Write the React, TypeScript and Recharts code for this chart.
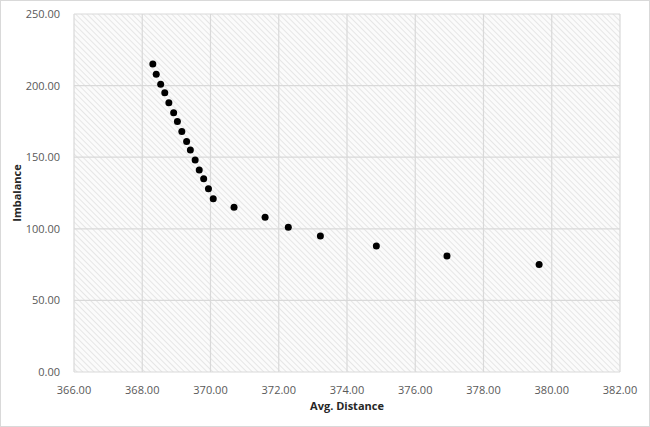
import React from "react";
import { ScatterChart, Scatter, XAxis, YAxis, CartesianGrid, Label } from "recharts";

const avgDistance = [
  368.31, 368.41, 368.54, 368.66, 368.78, 368.92, 369.03, 369.16, 369.3, 369.41, 369.55,
  369.67, 369.8, 369.94, 370.08, 370.69, 371.6, 372.28, 373.22, 374.86, 376.93, 379.63,
];
const imbalance = [
  215, 208, 201, 195, 188, 181, 175, 168, 161, 155, 148, 141, 135, 128, 121, 115, 108, 101, 95, 88, 81, 75,
];
const xTicks = [366, 368, 370, 372, 374, 376, 378, 380, 382];
const yTicks = [0, 50, 100, 150, 200, 250];

const data = avgDistance.map((x, i) => ({ x, y: imbalance[i] }));

const font = "'Open Sans', 'Noto Sans', sans-serif";

const Dot = (props: any) => <circle cx={props.cx} cy={props.cy} r={3.5} fill="#000" />;

export default function App() {
  return (
    <div style={{ position: "absolute", left: 0, top: 0, width: 650, height: 427, background: "#fff", boxSizing: "border-box", border: "1px solid #d9d9d9", fontFamily: font }}>
      <svg width={0} height={0} style={{ position: "absolute" }}>
        <defs>
          <pattern id="hatch" patternUnits="userSpaceOnUse" width={4} height={4} patternTransform="rotate(45)">
            <rect width={4} height={4} fill="#fbfbfb" />
            <line x1={0} y1={0} x2={4} y2={0} stroke="#dedede" strokeWidth={1.4} />
          </pattern>
        </defs>
      </svg>
      <ScatterChart width={648} height={425} margin={{ top: 13, right: 29, bottom: 0, left: 0 }}>
        <CartesianGrid stroke="#d9d9d9" strokeWidth={1.2} fill="url(#hatch)" horizontalValues={yTicks} verticalValues={xTicks} />
        <XAxis
          type="number"
          dataKey="x"
          domain={[366, 382]}
          ticks={xTicks}
          tickFormatter={(v: number) => v.toFixed(2)}
          tick={{ fill: "#595959", fontSize: 11, fontFamily: font }}
          axisLine={false}
          tickLine={false}
          tickMargin={8}
          height={54}
        >
          <Label value="Avg. Distance" position="insideTop" offset={30} style={{ fill: "#262626", fontSize: 11, fontWeight: 700, fontFamily: font }} />
        </XAxis>
        <YAxis
          type="number"
          dataKey="y"
          domain={[0, 250]}
          ticks={yTicks}
          tickFormatter={(v: number) => v.toFixed(2)}
          tick={{ fill: "#595959", fontSize: 11, fontFamily: font }}
          axisLine={false}
          tickLine={false}
          tickMargin={8}
          width={73}
        >
          <Label value="Imbalance" angle={-90} position="insideLeft" offset={16} style={{ textAnchor: "middle", fill: "#262626", fontSize: 11, fontWeight: 700, fontFamily: font }} />
        </YAxis>
        <Scatter data={data} shape={Dot} isAnimationActive={false} />
      </ScatterChart>
    </div>
  );
}
